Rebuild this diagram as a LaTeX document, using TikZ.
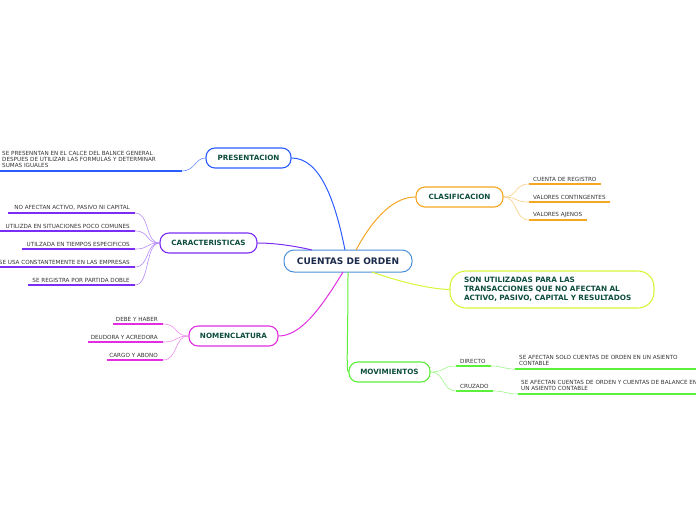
\documentclass[tikz,border=0pt]{standalone}
\usepackage{fontspec}
\setmainfont{DejaVu Sans}
\definecolor{cblue}{HTML}{2A5CFF}
\definecolor{cpurple}{HTML}{7B2CF5}
\definecolor{cmag}{HTML}{E02EE0}
\definecolor{corange}{HTML}{F5A623}
\definecolor{cyg}{HTML}{D8F53A}
\definecolor{cgreen}{HTML}{5CF03A}
\definecolor{ccent}{HTML}{4A90D9}
\definecolor{ntext}{HTML}{0D4D3D}
\definecolor{ctext}{HTML}{1A2A4A}
\definecolor{ltext}{HTML}{333333}
\tikzset{
  mainbox/.style={draw, line width=1.1pt, rounded corners=9pt, fill=white, inner sep=0pt,
    font=\fontsize{7.2}{8}\selectfont\bfseries, text=ntext, minimum height=20pt},
  centbox/.style={draw=ccent, line width=1pt, rounded corners=10pt, fill=white, inner sep=0pt,
    minimum width=128pt, minimum height=22pt, font=\fontsize{9}{10}\selectfont\bfseries, text=ctext},
  leaf/.style={inner sep=1pt, font=\fontsize{5.65}{7}\selectfont, text=ltext, align=left},
  ul/.style={line width=1.5pt},
  conn/.style={line width=1pt},
  lconn/.style={line width=0.6pt},
}
\begin{document}
\begin{tikzpicture}[x=1pt,y=-1pt]
\useasboundingbox (0,0) rectangle (696,520);

% central
\node[centbox] (cent) at (348,261) {CUENTAS DE ORDEN};

% main nodes
\node[mainbox, draw=cblue, minimum width=85pt] (pres) at (248.5,158) {PRESENTACION};
\node[mainbox, draw=cpurple, minimum width=97pt] (car) at (208.5,243) {CARACTERISTICAS};
\node[mainbox, draw=cmag, minimum width=89pt] (nom) at (233.5,336) {NOMENCLATURA};
\node[mainbox, draw=corange, minimum width=87pt] (cla) at (459.5,197) {CLASIFICACION};
\node[mainbox, draw=cyg, minimum height=37pt, rounded corners=16pt, inner xsep=14pt, text width=176pt, align=left, font=\fontsize{7.3}{9}\selectfont\bfseries] (son) at (552,289.5) {SON UTILIZADAS PARA LAS\\TRANSACCIONES QUE NO AFECTAN AL\\ACTIVO, PASIVO, CAPITAL Y RESULTADOS};
\node[mainbox, draw=cgreen, minimum width=81pt] (mov) at (389.5,372) {MOVIMIENTOS};

% main connectors
\coordinate (cTop1) at (345,250);
\coordinate (cTop2) at (312,250);
\coordinate (cTop3) at (356,250);
\coordinate (cBot1) at (343,272);
\coordinate (cBot2) at (372,272);
\coordinate (cBot3) at (348,272);
\draw[conn, cblue] (cTop1) .. controls (335,200) and (320,158) .. (pres.east);
\draw[conn, cpurple] (cTop2) .. controls (295,246) and (275,243) .. (car.east);
\draw[conn, cmag] (cBot1) .. controls (320,310) and (300,336) .. (nom.east);
\draw[conn, corange] (cTop3) .. controls (375,215) and (395,197) .. (cla.west);
\draw[conn, cyg] (cBot2) .. controls (400,282) and (430,289) .. (son.west);
\draw[conn, cgreen] (cBot3) .. controls (348,340) and (346,372) .. (mov.west);

% PRESENTACION leaf
\coordinate (p1a) at (0,171); \coordinate (p1b) at (182,171);
\node[leaf, anchor=south west, font=\fontsize{5.65}{6.3}\selectfont] (p1t) at (1,169) {SE PRESENNTAN EN EL CALCE DEL BALNCE GENERAL\\DESPUES DE UTILIZAR LAS FORMULAS Y DETERMINAR\\SUMAS IGUALES};
\draw[ul, cblue] (p1a) -- (p1b);
\draw[lconn, cblue!70] (p1b) .. controls (195,171) and (195,158) .. (pres.west);

% CARACTERISTICAS leaves
\foreach \n/\xa/\y/\t in {c1/8/213/{NO AFECTAN ACTIVO, PASIVO NI CAPITAL},
  c2/0/231/{UTILIZDA EN SITUACIONES POCO COMUNES},
  c3/22/249/{UTILZADA EN TIEMPOS ESPECIFICOS},
  c4/0/267/{SE USA CONSTANTEMENTE EN LAS EMPRESAS},
  c5/28/285/{SE REGISTRA POR PARTIDA DOBLE}}{
  \coordinate (\n a) at (\xa,\y); \coordinate (\n b) at (135,\y);
  \node[leaf, anchor=south east] (\n t) at (131,\y-1.5) {\t};
  \draw[ul, cpurple] (\n a) -- (\n b);
  \draw[lconn, cpurple!55] (\n b) .. controls (150,\y) and (145,243) .. (car.west);
}

% NOMENCLATURA leaves
\foreach \n/\xa/\y/\t in {n1/113/324/{DEBE Y HABER},
  n2/88/342/{DEUDORA Y ACREDORA},
  n3/107/360/{CARGO Y ABONO}}{
  \coordinate (\n a) at (\xa,\y); \coordinate (\n b) at (163,\y);
  \node[leaf, anchor=south east] (\n t) at (159,\y-1.5) {\t};
  \draw[ul, cmag] (\n a) -- (\n b);
  \draw[lconn, cmag!55] (\n b) .. controls (178,\y) and (174,336) .. (nom.west);
}

% CLASIFICACION leaves
\foreach \n/\xb/\y/\t in {k1/601/184/{CUENTA DE REGISTRO},
  k2/610/202/{VALORES CONTINGENTES},
  k3/587/220/{VALORES AJENOS}}{
  \coordinate (\n a) at (529,\y); \coordinate (\n b) at (\xb,\y);
  \node[leaf, anchor=south west] (\n t) at (532,\y-1.5) {\t};
  \draw[ul, corange] (\n a) -- (\n b);
  \draw[lconn, corange!55] (cla.east) .. controls (518,197) and (514,\y) .. (\n a);
}

% MOVIMIENTOS leaves
\coordinate (m1a) at (456,366); \coordinate (m1b) at (491,366);
\coordinate (m2a) at (456,391); \coordinate (m2b) at (493,391);
\node[leaf, anchor=south west] (m1t) at (459,364.5) {DIRECTO};
\node[leaf, anchor=south west] (m2t) at (459,389.5) {CRUZADO};
\draw[ul, cgreen] (m1a) -- (m1b);
\draw[ul, cgreen] (m2a) -- (m2b);
\draw[lconn, cgreen!60] (mov.east) .. controls (445,372) and (442,366) .. (m1a);
\draw[lconn, cgreen!60] (mov.east) .. controls (445,372) and (442,391) .. (m2a);

\coordinate (s1a) at (515,369); \coordinate (s1b) at (696,369);
\coordinate (s2a) at (518,394); \coordinate (s2b) at (696,394);
\node[leaf, anchor=south west, font=\fontsize{5.65}{6.3}\selectfont] (s1t) at (518,367) {SE AFECTAN SOLO CUENTAS DE ORDEN EN UN ASIENTO\\CONTABLE};
\node[leaf, anchor=south west, font=\fontsize{5.65}{6.3}\selectfont] (s2t) at (520,392) {SE AFECTAN CUENTAS DE ORDEN Y CUENTAS DE BALANCE EN\\UN ASIENTO CONTABLE};
\draw[ul, cgreen] (s1a) -- (s1b);
\draw[ul, cgreen] (s2a) -- (s2b);
\draw[lconn, cgreen!60] (m1b) .. controls (503,366) and (503,369) .. (s1a);
\draw[lconn, cgreen!60] (m2b) .. controls (506,391) and (506,394) .. (s2a);
\end{tikzpicture}
\end{document}
